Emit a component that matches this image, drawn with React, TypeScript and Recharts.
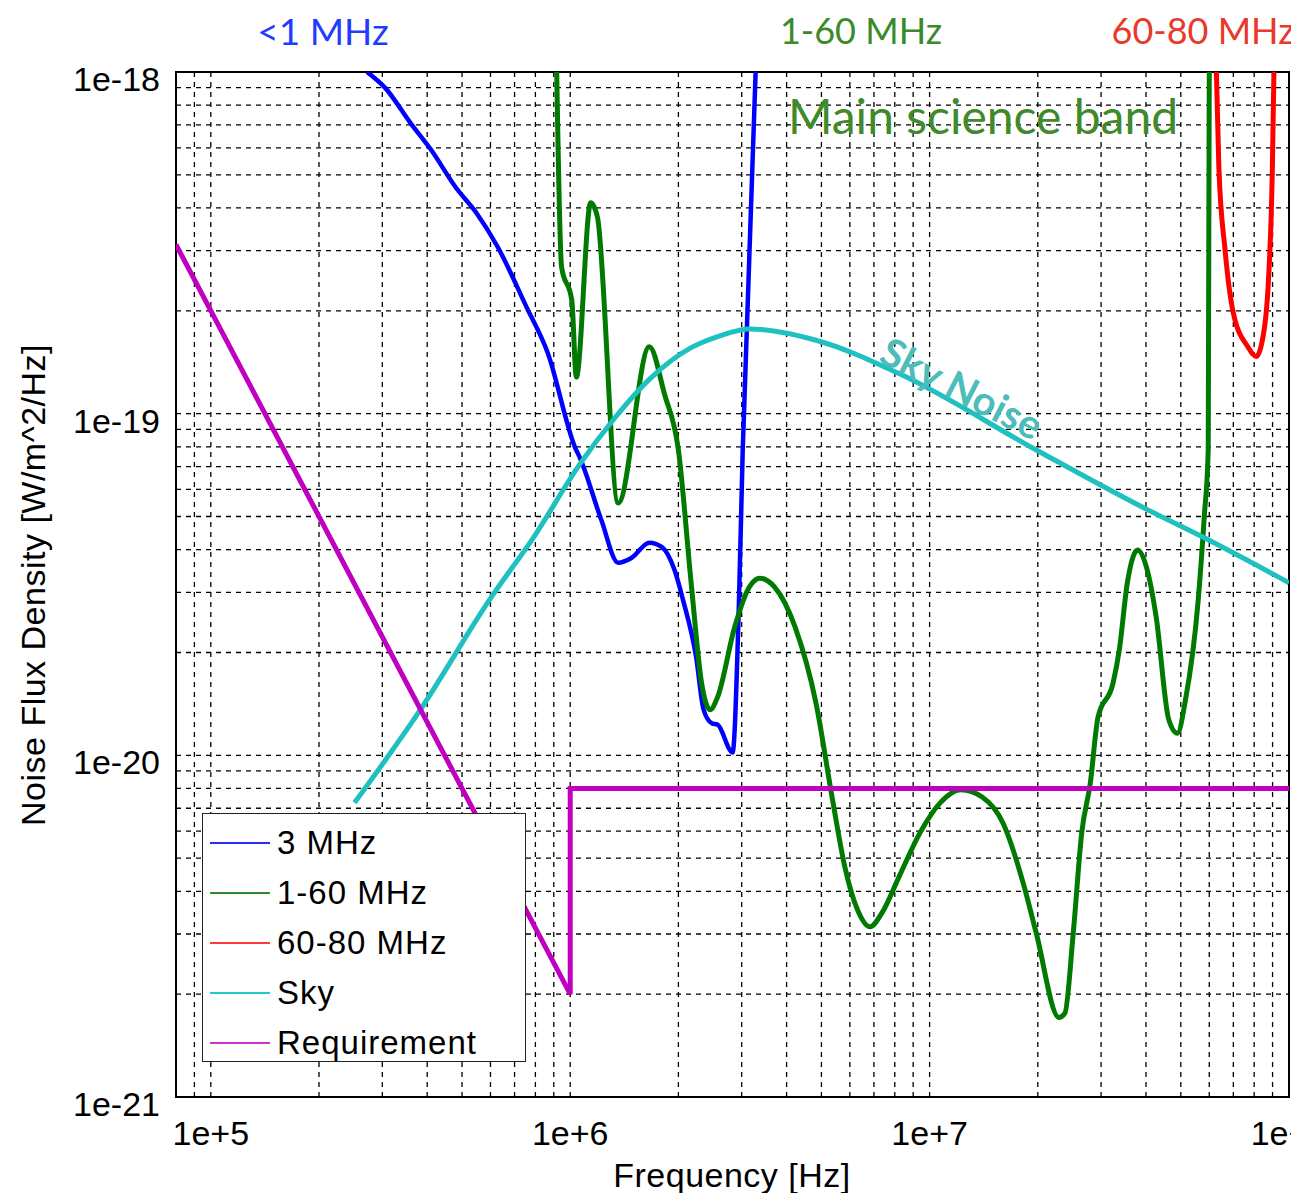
import {
  CartesianGrid,
  Legend,
  Line,
  LineChart,
  ReferenceArea,
  XAxis,
  YAxis,
} from "recharts";

// tick positions (log grid: every 1..9 of each decade)
const freqTicks = [
  8e4, 9e4,
  1e5, 2e5, 3e5, 4e5, 5e5, 6e5, 7e5, 8e5, 9e5,
  1e6, 2e6, 3e6, 4e6, 5e6, 6e6, 7e6, 8e6, 9e6,
  1e7, 2e7, 3e7, 4e7, 5e7, 6e7, 7e7, 8e7, 9e7,
  1e8,
];
const freqLabels = [1e5, 1e6, 1e7, 1e8];

const fluxTicks = [
  1e-21, 2e-21, 3e-21, 4e-21, 5e-21, 6e-21, 7e-21, 8e-21, 9e-21,
  1e-20, 2e-20, 3e-20, 4e-20, 5e-20, 6e-20, 7e-20, 8e-20, 9e-20,
  1e-19, 2e-19, 3e-19, 4e-19, 5e-19, 6e-19, 7e-19, 8e-19, 9e-19,
  1e-18,
];
const fluxLabels = [1e-21, 1e-20, 1e-19, 1e-18];

// 3 MHz antenna
const mhz3Freq = [
  2.72e5, 3.06e5, 3.59e5, 4.1e5, 4.8e5, 5.49e5, 6.28e5, 7.56e5, 8.65e5,
  1.03e6, 1.07e6, 1.22e6, 1.36e6, 1.48e6, 1.66e6, 1.8e6, 1.95e6, 2.06e6,
  2.24e6, 2.35e6, 2.48e6, 2.57e6, 2.83e6, 2.94e6, 3.02e6, 3.28e6,
];
const mhz3Flux = [
  1.0e-18, 8.97e-19, 7.1e-19, 5.92e-19, 4.6e-19, 3.86e-19, 3.08e-19, 2.05e-19, 1.51e-19,
  8.0e-20, 7.33e-20, 4.89e-20, 3.66e-20, 3.78e-20, 4.19e-20, 4.07e-20, 3.49e-20, 2.85e-20,
  1.94e-20, 1.36e-20, 1.24e-20, 1.23e-20, 1.02e-20, 2.54e-20, 7.83e-20, 1.0e-18,
];

// 1-60 MHz antenna
const mhz160Freq = [
  9.17e5, 9.46e5, 1.01e6, 1.04e6, 1.14e6, 1.19e6, 1.36e6, 1.66e6, 1.83e6, 2.0e6,
  2.17e6, 2.32e6, 2.45e6, 2.57e6, 2.87e6, 3.15e6, 3.37e6, 3.7e6, 4.22e6, 4.83e6,
  5.37e6, 5.81e6, 6.3e6, 6.82e6, 7.37e6, 8.22e6, 9.4e6, 1.07e7, 1.22e7, 1.4e7,
  1.6e7, 1.82e7, 1.98e7, 2.29e7, 2.38e7, 2.51e7, 2.65e7, 2.8e7, 2.94e7, 3.24e7,
  3.37e7, 3.55e7, 3.79e7, 4.01e7, 4.27e7, 4.63e7, 4.89e7, 5.15e7, 5.59e7, 5.81e7,
  5.96e7, 6.0e7,
];
const mhz160Flux = [
  1.0e-18, 2.69e-19, 2.15e-19, 1.28e-19, 4.14e-19, 3.77e-19, 5.48e-20, 1.57e-19, 1.14e-19, 7.83e-20,
  3.2e-20, 1.63e-20, 1.36e-20, 1.48e-20, 2.38e-20, 3.11e-20, 3.3e-20, 3.11e-20, 2.38e-20, 1.42e-20,
  7.4e-21, 4.71e-21, 3.53e-21, 3.15e-21, 3.46e-21, 4.41e-21, 5.93e-21, 7.26e-21, 7.93e-21, 7.55e-21,
  6.34e-21, 4.24e-21, 3.02e-21, 1.71e-21, 1.76e-21, 3.02e-21, 5.93e-21, 8.3e-21, 1.29e-20, 1.63e-20,
  2.03e-20, 3.2e-20, 3.99e-20, 3.56e-20, 2.54e-20, 1.27e-20, 1.16e-20, 1.45e-20, 2.85e-20, 4.99e-20,
  7.83e-20, 1.0e-18,
];

// 60-80 MHz antenna
const mhz6080Freq = [6.28e7, 6.38e7, 6.64e7, 7.0e7, 7.68e7, 8.11e7, 8.43e7, 8.76e7, 8.99e7, 9.08e7];
const mhz6080Flux = [1.0e-18, 5.27e-19, 3.01e-19, 1.97e-19, 1.57e-19, 1.47e-19, 1.64e-19, 2.42e-19, 5.27e-19, 1.0e-18];

// sky background
const skyFreq = [
  2.51e5, 3.83e5, 5.96e5, 7.96e5, 1.06e6, 1.33e6, 1.66e6, 2.17e6, 2.61e6, 3.15e6,
  4.83e6, 8.22e6, 1.98e7, 4.06e7, 5.74e7, 1.0e8,
];
const skyFlux = [
  7.26e-21, 1.36e-20, 2.85e-20, 4.39e-20, 7.08e-20, 9.71e-20, 1.26e-19, 1.56e-19, 1.69e-19, 1.77e-19,
  1.64e-19, 1.31e-19, 7.83e-20, 5.22e-20, 4.36e-20, 3.2e-20,
];

// requirement
const reqFreq = [8e4, 1e6, 1e6, 1e8];
const reqFlux = [3.125e-19, 2.0e-21, 8.0e-21, 8.0e-21];

const toPoints = (f: number[], v: number[]) => f.map((x, i) => ({ f: x, v: v[i] }));

const series = [
  { name: "3 MHz", color: "#0000ff", legendColor: "#2a2aff", data: toPoints(mhz3Freq, mhz3Flux), type: "monotone", width: 4.5 },
  { name: "1-60 MHz", color: "#007a00", legendColor: "#2e8b2e", data: toPoints(mhz160Freq, mhz160Flux), type: "monotone", width: 5 },
  { name: "60-80 MHz", color: "#ff0000", legendColor: "#ff3a3a", data: toPoints(mhz6080Freq, mhz6080Flux), type: "monotone", width: 5 },
  { name: "Sky", color: "#1fc0c0", legendColor: "#22c8c8", data: toPoints(skyFreq, skyFlux), type: "monotone", width: 5 },
  { name: "Requirement", color: "#c000c0", legendColor: "#cc33cc", data: toPoints(reqFreq, reqFlux), type: "linear", width: 5 },
];

const tickFont = { fontFamily: "Liberation Sans, Arial, sans-serif", fontSize: 34, fill: "#000" };

const expLabel = (v: number) => {
  const e = Math.round(Math.log10(v));
  return e >= 0 ? `1e+${e}` : `1e${e}`;
};

function LegendBox() {
  return (
    <div
      style={{
        width: 324,
        height: 249,
        boxSizing: "border-box",
        border: "1.5px solid #222",
        background: "#fff",
        paddingTop: 4,
        fontFamily: "Liberation Sans, Arial, sans-serif",
        fontSize: 33,
        letterSpacing: 1,
        color: "#000",
        overflow: "visible",
      }}
    >
      {series.map((s) => (
        <div key={s.name} style={{ display: "flex", alignItems: "center", height: 50 }}>
          <span
            style={{
              display: "inline-block",
              width: 60,
              marginLeft: 7,
              marginRight: 7,
              borderTop: `2px solid ${s.legendColor}`,
            }}
          />
          <span>{s.name}</span>
        </div>
      ))}
    </div>
  );
}

const note = (color: string, size: number): React.CSSProperties => ({
  position: "absolute",
  transform: "translate(-50%, -50%)",
  whiteSpace: "nowrap",
  fontFamily: "Lato, 'Open Sans', sans-serif",
  fontSize: size,
  color,
  pointerEvents: "none",
});

const axisTitle: React.CSSProperties = {
  fontFamily: "Liberation Sans, Arial, sans-serif",
  letterSpacing: 0.5,
};

export default function App() {
  return (
    <div style={{ position: "relative", width: 1291, height: 1185 }}>
      <LineChart width={1291} height={1185} margin={{ top: 64, right: 10, bottom: 0, left: 0 }}>
        <CartesianGrid stroke="#000" strokeWidth={1.3} strokeDasharray="5 5" />
        <XAxis
          dataKey="f"
          type="number"
          scale="log"
          domain={[8e4, 1e8]}
          allowDataOverflow
          ticks={freqTicks}
          interval={0}
          height={96}
          axisLine={false}
          tickLine={false}
          tickSize={0}
          tickMargin={24}
          tick={tickFont}
          tickFormatter={(v) => (freqLabels.includes(v) ? expLabel(v) : "")}
        />
        <YAxis
          dataKey="v"
          type="number"
          scale="log"
          domain={[1e-21, 1e-18]}
          allowDataOverflow
          ticks={fluxTicks}
          interval={0}
          width={168}
          axisLine={false}
          tickLine={false}
          tickSize={0}
          tickMargin={16}
          tick={{ ...tickFont, dy: 7 }}
          tickFormatter={(v) => (fluxLabels.includes(v) ? expLabel(v) : "")}
        />
        {series.map((s) => (
          <Line
            key={s.name}
            name={s.name}
            data={s.data}
            dataKey="v"
            type={s.type as any}
            stroke={s.color}
            strokeWidth={s.width}
            dot={false}
            activeDot={false}
            isAnimationActive={false}
          />
        ))}
        <ReferenceArea
          x1={8e4}
          x2={1e8}
          y1={1e-21}
          y2={1e-18}
          fill="none"
          fillOpacity={0}
          stroke="#000"
          strokeWidth={2}
        />
        <Legend
          layout="vertical"
          align="center"
          verticalAlign="middle"
          wrapperStyle={{ left: 194, top: 805, width: 324 }}
          content={() => <LegendBox />}
        />
      </LineChart>

      <div style={{ ...note("#1f3cff", 37), left: 315, top: 22 }}>&lt;1 MHz</div>
      <div style={{ ...note("#3a8a2a", 36), left: 853, top: 22 }}>1-60 MHz</div>
      <div style={{ ...note("#e8392b", 36), left: 1195, top: 22 }}>60-80 MHz</div>
      <div style={{ ...note("#3f8a2a", 48), left: 975, top: 107 }}>Main science band</div>
      <div
        style={{
          ...note("#4fbcbc", 40),
          left: 954,
          top: 380,
          fontWeight: 700,
          transform: "translate(-50%, -50%) rotate(27deg)",
        }}
      >
        Sky Noise
      </div>
      <div
        style={{
          ...note("#000", 34),
          ...axisTitle,
          left: 25,
          top: 577,
          transform: "translate(-50%, -50%) rotate(-90deg)",
        }}
      >
        Noise Flux Density [W/m^2/Hz]
      </div>
      <div style={{ ...note("#000", 34), ...axisTitle, left: 724, top: 1167 }}>
        Frequency [Hz]
      </div>
    </div>
  );
}
